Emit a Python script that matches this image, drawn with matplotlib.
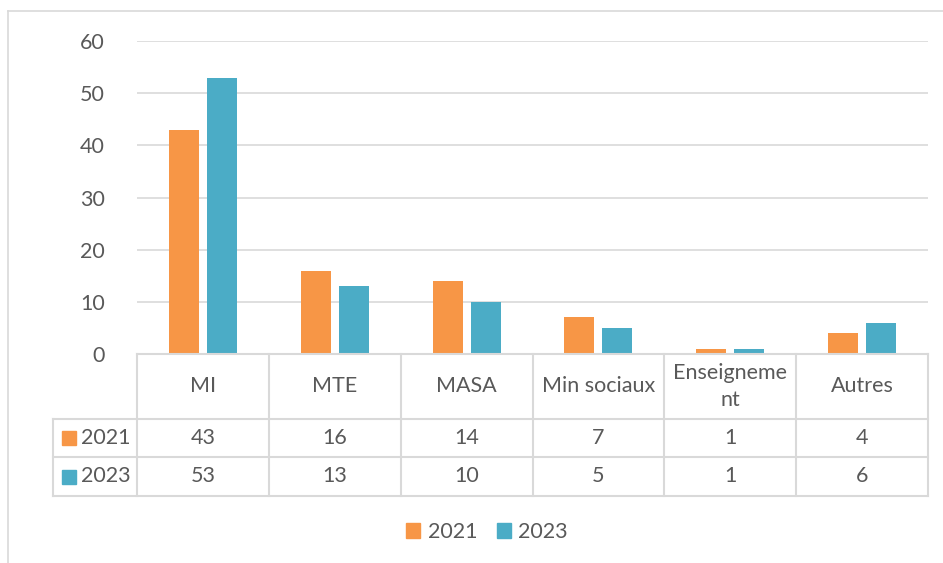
import matplotlib
matplotlib.use("Agg")
import matplotlib.pyplot as plt
from matplotlib.patches import Patch, Rectangle
from matplotlib.lines import Line2D

categories = ["MI", "MTE", "MASA", "Min sociaux", "Enseigneme\nnt", "Autres"]
series_names = ["2021", "2023"]
vals_2021 = [43, 16, 14, 7, 1, 4]
vals_2023 = [53, 13, 10, 5, 1, 6]
yticks = [0, 10, 20, 30, 40, 50, 60]

colors = ["#F79646", "#4BACC6"]
grid_c = "#D9D9D9"
txt_c = "#595959"
fs = 15.5

plt.rcParams['font.family'] = ['Lato', 'DejaVu Sans']

W, H = 943, 563
fig = plt.figure(figsize=(W / 100, H / 100), dpi=100)

def fx(px):
    return px / W

def fy(py):
    return 1 - py / H

# outer chart frame
fig.add_artist(Line2D([fx(8), fx(8)], [fy(11), fy(563)], color=grid_c, lw=1.2))
fig.add_artist(Line2D([fx(8), fx(943)], [fy(11), fy(11)], color=grid_c, lw=1.2))

# plot area
left, right, top, base = 137, 928, 41, 354
ax = fig.add_axes([fx(left), fy(base), fx(right - left), (base - top) / H])
n = len(categories)
x = list(range(n))
bw = 0.228
off = 0.144
ax.bar([i - off for i in x], vals_2021, bw, color=colors[0], zorder=3)
ax.bar([i + off for i in x], vals_2023, bw, color=colors[1], zorder=3)
ax.set_xlim(-0.5, n - 0.5)
ax.set_ylim(0, 60)
ax.set_yticks(yticks)
ax.set_xticks([])
for t in yticks[1:]:
    ax.axhline(t, color=grid_c, lw=1.2, zorder=1)
for s in ax.spines.values():
    s.set_visible(False)
ax.tick_params(axis='y', length=0, pad=23, labelsize=fs, labelcolor=txt_c)

# data table
tleft = 53
rows_y = [354, 419, 457, 496]
cw = (right - left) / n
tab = fig.add_axes([fx(tleft), fy(rows_y[-1]), fx(right - tleft), (rows_y[-1] - rows_y[0]) / H])
tab.set_xlim(tleft, right)
tab.set_ylim(rows_y[-1], rows_y[0])
tab.axis('off')
lw = 1.5
tab.plot([left, right], [rows_y[0]] * 2, color=grid_c, lw=lw, clip_on=False)
for ry in rows_y[1:]:
    tab.plot([tleft, right], [ry] * 2, color=grid_c, lw=lw, clip_on=False)
tab.plot([tleft, tleft], [rows_y[1], rows_y[-1]], color=grid_c, lw=lw, clip_on=False)
for i in range(n + 1):
    xx = left + i * cw
    tab.plot([xx, xx], [rows_y[0], rows_y[-1]], color=grid_c, lw=lw, clip_on=False)

for i, c in enumerate(categories):
    cx = left + (i + 0.5) * cw
    tab.text(cx, (rows_y[0] + rows_y[1]) / 2, c, ha='center', va='center',
             fontsize=fs, color=txt_c, linespacing=1.45)
for r, (name, vals) in enumerate(zip(series_names, [vals_2021, vals_2023])):
    cy = (rows_y[r + 1] + rows_y[r + 2]) / 2
    tab.add_patch(Rectangle((62, cy - 7), 14, 14, color=colors[r], clip_on=False))
    tab.text(81, cy, name, ha='left', va='center', fontsize=fs, color=txt_c)
    for i, v in enumerate(vals):
        tab.text(left + (i + 0.5) * cw, cy, str(v), ha='center', va='center',
                 fontsize=fs, color=txt_c)

handles = [Patch(color=colors[0], label=series_names[0]),
           Patch(color=colors[1], label=series_names[1])]
fig.legend(handles=handles, loc='center', bbox_to_anchor=(fx(487), fy(532)),
           ncol=2, frameon=False, fontsize=fs, labelcolor=txt_c,
           handlelength=0.65, handleheight=0.65, handletextpad=0.35, columnspacing=0.9)

fig.savefig("out.png", dpi=100)
